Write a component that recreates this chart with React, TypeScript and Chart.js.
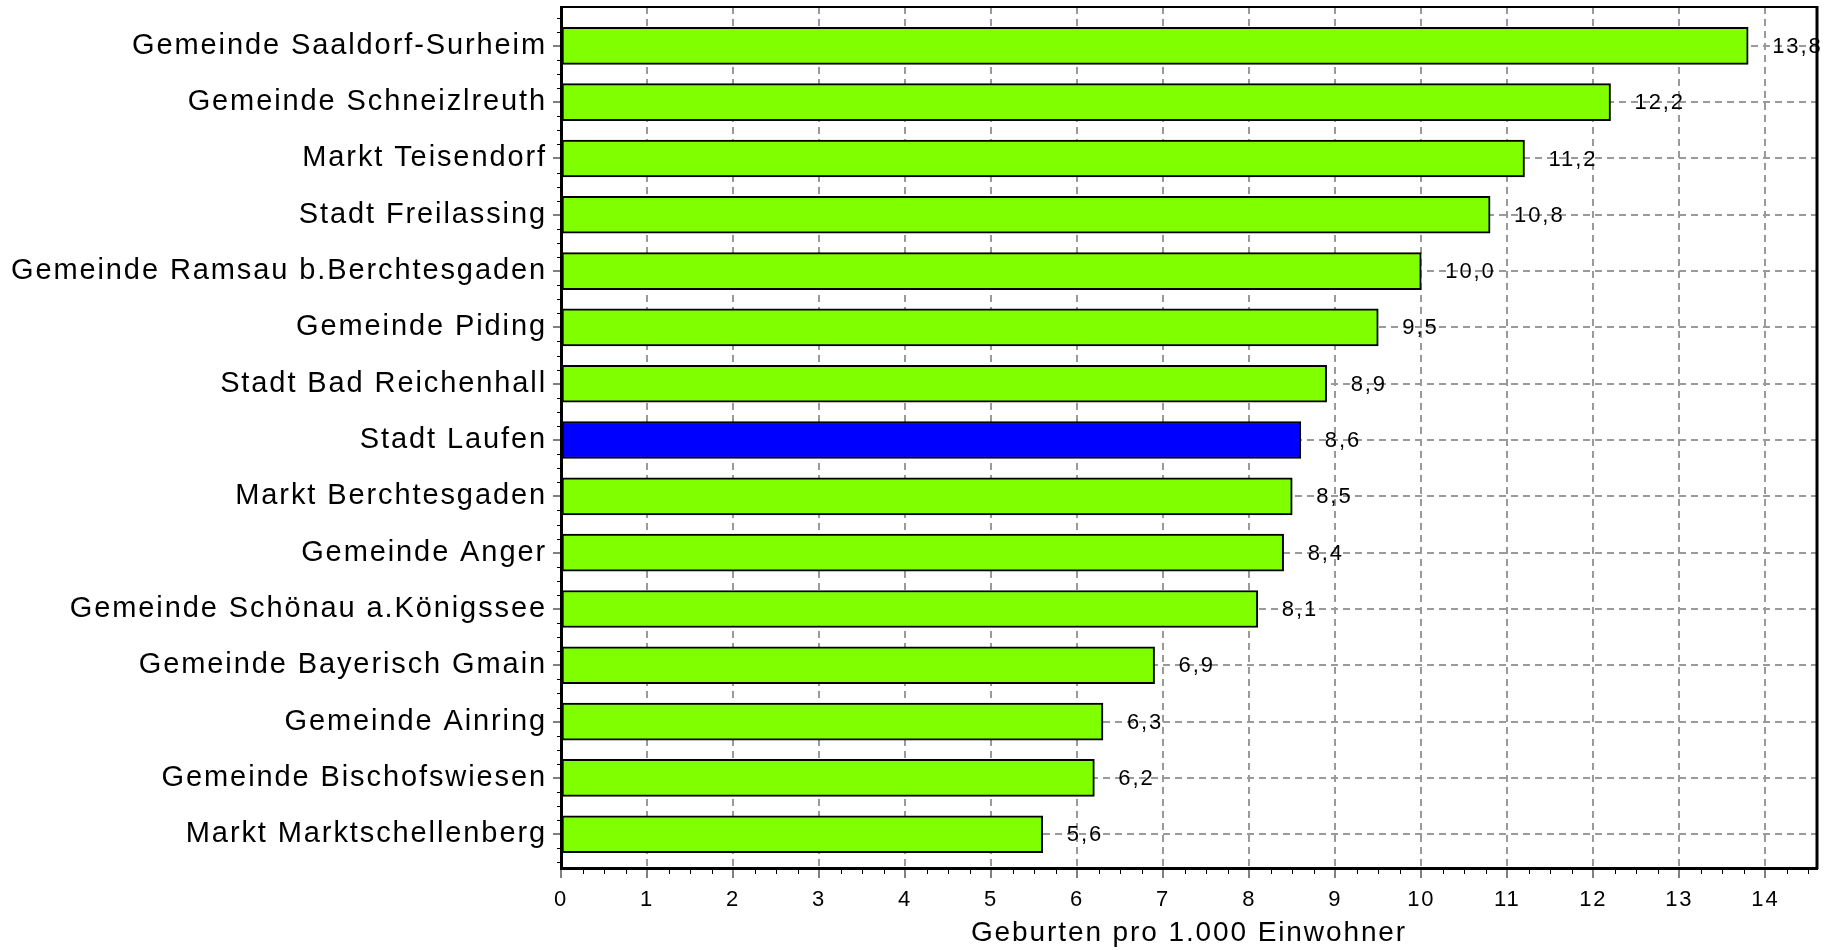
import React, { useEffect, useRef } from 'react';
import { Chart, registerables } from 'chart.js';

Chart.register(...registerables);

const categories = [
  'Gemeinde Saaldorf-Surheim',
  'Gemeinde Schneizlreuth',
  'Markt Teisendorf',
  'Stadt Freilassing',
  'Gemeinde Ramsau b.Berchtesgaden',
  'Gemeinde Piding',
  'Stadt Bad Reichenhall',
  'Stadt Laufen',
  'Markt Berchtesgaden',
  'Gemeinde Anger',
  'Gemeinde Schönau a.Königssee',
  'Gemeinde Bayerisch Gmain',
  'Gemeinde Ainring',
  'Gemeinde Bischofswiesen',
  'Markt Marktschellenberg',
];

const values = [13.8, 12.2, 11.2, 10.8, 10.0, 9.5, 8.9, 8.6, 8.5, 8.4, 8.1, 6.9, 6.3, 6.2, 5.6];

const highlighted = 'Stadt Laufen';

const xTickValues = [0, 1, 2, 3, 4, 5, 6, 7, 8, 9, 10, 11, 12, 13, 14];

const axisTitle = 'Geburten pro 1.000 Einwohner';

const FONT = '"Liberation Sans", Arial, Helvetica, sans-serif';
const GREEN = '#80FF00';
const BLUE = '#0000FF';
const GRID = '#9a9a9a';

export default function App() {
  const ref = useRef<HTMLCanvasElement>(null);

  useEffect(() => {
    const canvas = ref.current;
    if (!canvas) return;

    const setSpacing = (chart: any) => {
      chart.ctx.letterSpacing = '1.9px';
    };

    const extras = {
      id: 'extras',
      beforeLayout: setSpacing,
      beforeDraw: setSpacing,
      afterDatasetsDraw(chart: any) {
        const ctx = chart.ctx;
        const meta = chart.getDatasetMeta(0);
        ctx.save();
        ctx.font = `22px ${FONT}`;
        ctx.fillStyle = '#000';
        ctx.textAlign = 'left';
        ctx.textBaseline = 'middle';
        meta.data.forEach((el: any, i: number) => {
          const txt = values[i].toFixed(1).replace('.', ',');
          ctx.fillText(txt, el.x + 24, el.y + 1);
        });
        ctx.restore();
      },
      afterDraw(chart: any) {
        const ctx = chart.ctx;
        const a = chart.chartArea;
        const xs = chart.scales.x;
        const ys = chart.scales.y;
        ctx.save();
        ctx.strokeStyle = '#000';
        ctx.setLineDash([]);
        ctx.lineWidth = 2;
        ctx.beginPath();
        ctx.moveTo(a.left, a.top);
        ctx.lineTo(a.right, a.top);
        ctx.stroke();
        ctx.lineWidth = 3;
        ctx.beginPath();
        ctx.moveTo(a.right, a.top - 1);
        ctx.lineTo(a.right, a.bottom + 1);
        ctx.stroke();
        ctx.lineWidth = 1;
        ctx.beginPath();
        for (let v = 0.25; v <= xs.max; v += 0.25) {
          if (Math.abs(v - Math.round(v)) < 1e-6) continue;
          const px = Math.round(xs.getPixelForValue(v)) + 0.5;
          ctx.moveTo(px, a.bottom);
          ctx.lineTo(px, a.bottom + 6);
        }
        for (let v = -0.5; v <= 14.5; v += 0.25) {
          if (Math.abs(v - Math.round(v)) < 1e-6) continue;
          const py = Math.round(ys.getPixelForValue(v)) + 0.5;
          ctx.moveTo(a.left, py);
          ctx.lineTo(a.left - 4, py);
        }
        ctx.stroke();
        ctx.restore();
      },
    };

    const chart = new Chart(canvas, {
      type: 'bar',
      data: {
        datasets: [
          {
            data: values.map((v, i) => ({ x: v, y: i })),
            backgroundColor: categories.map((c) => (c === highlighted ? BLUE : GREEN)),
            borderColor: '#000',
            borderWidth: 2,
            borderSkipped: false,
            barThickness: 37,
          },
        ],
      },
      options: {
        indexAxis: 'y',
        responsive: false,
        animation: false,
        devicePixelRatio: 1,
        layout: { padding: { left: 0, top: 7, right: 16, bottom: 0 } },
        plugins: {
          legend: { display: false },
          tooltip: { enabled: false },
          title: { display: false },
        },
        scales: {
          x: {
            type: 'linear',
            min: 0,
            max: 14.6,
            offset: false,
            bounds: 'data',
            afterBuildTicks: (scale: any) => {
              scale.ticks = xTickValues.map((v) => ({ value: v }));
            },
            afterFit: (scale: any) => {
              scale.height = 82;
              scale.paddingLeft = 0;
              scale.paddingRight = 0;
            },
            border: { display: true, color: '#000', width: 3, dash: [7, 5] },
            grid: {
              color: GRID,
              lineWidth: 2,
              offset: false,
              drawTicks: true,
              tickLength: 10,
              tickColor: '#000',
              tickWidth: 1,
              tickBorderDash: [],
            },
            ticks: {
              color: '#000',
              font: { family: FONT, size: 22 },
              padding: 9,
              maxRotation: 0,
              callback: (v: any) => String(v),
            },
            title: {
              display: true,
              text: axisTitle,
              color: '#000',
              font: { family: FONT, size: 28 },
              padding: { top: 0, bottom: 0 },
            },
          },
          y: {
            type: 'linear',
            reverse: true,
            min: -0.69,
            max: 14.6,
            offset: false,
            bounds: 'data',
            afterBuildTicks: (scale: any) => {
              scale.ticks = categories.map((_, i) => ({ value: i }));
            },
            afterFit: (scale: any) => {
              scale.width = 561;
              scale.paddingTop = 0;
              scale.paddingBottom = 0;
            },
            border: { display: true, color: '#000', width: 3, dash: [7, 5] },
            grid: {
              color: GRID,
              lineWidth: 2,
              offset: false,
              drawTicks: true,
              tickLength: 8,
              tickColor: '#000',
              tickWidth: 1,
              tickBorderDash: [],
            },
            ticks: {
              color: '#000',
              font: { family: FONT, size: 29 },
              padding: 6,
              autoSkip: false,
              callback: (v: any) => categories[Math.round(Number(v))] ?? '',
            },
          },
        },
      },
      plugins: [extras],
    });

    return () => chart.destroy();
  }, []);

  return (
    <div style={{ position: 'fixed', left: 0, top: 0, width: 1833, height: 950, background: '#fff' }}>
      <canvas ref={ref} width={1833} height={950} style={{ width: 1833, height: 950, display: 'block' }} />
    </div>
  );
}
